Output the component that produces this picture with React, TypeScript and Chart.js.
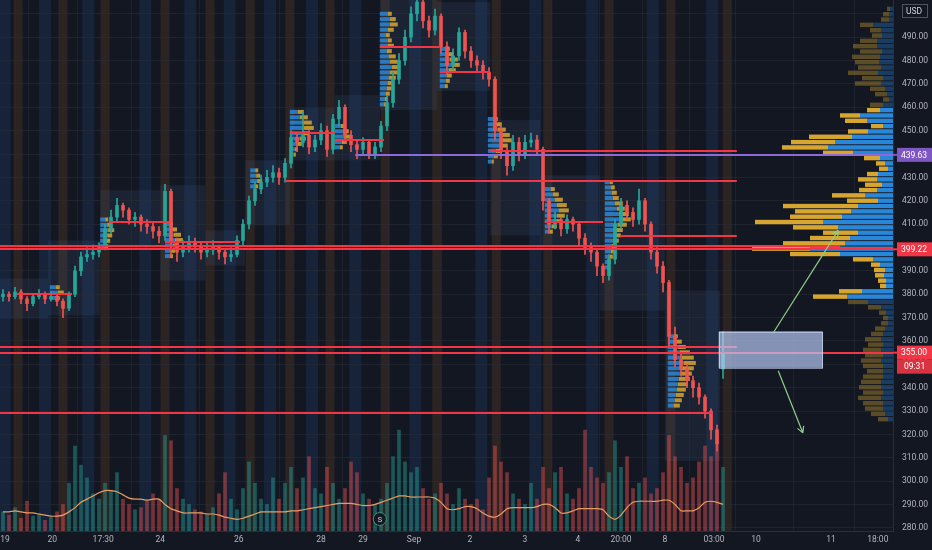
import React, { useEffect, useRef } from "react";
import { Chart, registerables } from "chart.js";
Chart.register(...registerables);

// ---------- price candles ----------
const OPENS = [379,380,379,381,378,376,379,380,378,379, 377,374,380,390,396,397,398,400,408,413,
  418,416,412,413,410,409,407,405,424,402, 398,400,402,401,398,399,400,398,396,397,
  403,410,420,425,428,430,432,430,436,447, 445,448,443,446,450,442,455,460,448,444,
  442,445,440,443,452,462,472,480,490,500, 505,497,493,499,486,478,482,492,484,480,
  478,475,472,450,441,435,445,440,445,446, 442,420,410,412,408,412,410,404,400,398,
  392,388,395,410,418,415,412,420,410,398, 392,385,362,352,348,343,340,336,330,322, 348];
const CLOSES = [380,379,381,378,376,379,380,378,379,377, 374,380,390,396,397,398,400,408,413,418,
  416,412,413,410,409,407,405,424,402,398, 400,402,401,398,399,400,398,396,397,403,
  410,420,425,428,430,432,430,436,447,445, 448,443,446,450,442,455,460,448,444,442,
  445,440,443,452,462,472,480,490,500,505, 497,493,499,486,478,482,492,484,480,478,
  475,472,450,441,435,445,440,445,446,442, 420,410,412,408,412,410,404,400,398,392,
  388,395,410,418,415,412,420,410,398,392, 385,362,352,348,343,340,336,330,322,316, 355];
const HIGHS = [382,381,383,382,379,380,382,381,381,380, 378,381,392,398,400,401,402,410,416,421,
  419,417,415,414,412,411,409,427,425,404, 403,405,404,402,402,403,401,399,400,405,
  412,422,428,431,433,435,434,438,450,449, 458,450,448,453,452,457,463,461,450,446,
  447,446,445,454,465,475,483,493,503,507, 506,499,502,500,488,485,494,493,486,482,
  480,477,473,452,443,448,447,448,449,448, 443,421,415,413,414,413,411,406,402,399,
  393,397,412,421,420,417,425,421,411,400, 394,386,366,355,350,345,342,337,331,324, 364];
const LOWS = [377,377,378,376,373,375,378,376,377,375, 370,373,379,388,394,395,396,399,406,411,
  413,410,409,407,406,404,402,403,396,394, 396,398,398,395,396,397,395,393,394,396,
  401,408,418,423,426,428,427,428,434,441, 443,440,441,444,439,440,452,445,441,438,
  440,438,438,441,450,460,470,478,488,497, 494,490,491,483,474,476,480,481,477,475,
  472,469,446,438,431,433,437,438,443,440, 416,406,408,405,406,407,401,397,394,388,
  385,386,393,408,412,409,410,407,395,389, 381,358,349,345,340,336,333,327,318,313, 344];

// ---------- volume ----------
const VOLUMES = [18,15,22,12,28,14,16,10,13,18, 25,45,80,62,50,35,30,45,38,55,
  30,25,20,22,28,35,30,90,85,40, 30,25,20,18,15,22,35,55,30,20,
  40,65,45,30,25,50,30,45,60,40, 50,70,40,35,60,45,30,40,65,55,
  35,30,25,30,45,70,95,65,55,60, 40,30,35,45,35,25,40,30,25,30,
  20,50,80,65,55,35,30,25,45,30, 60,40,55,60,35,30,40,95,60,50,
  45,55,85,60,70,40,45,50,35,40, 55,90,70,60,45,50,65,80,70,85, 60];
const VOLUME_MA = [18,18,19,18,17,17,16,15,14,14, 15,18,22,27,30,33,36,38,38,37,
  34,31,30,30,29,30,30,25,21,19, 17,17,17,17,16,16,15,13,12,11,
  12,14,16,18,18,18,18,18,19,19, 20,21,22,23,24,25,26,26,26,25,
  24,24,25,27,29,31,33,33,32,32, 32,32,31,27,21,20,21,23,23,21,
  17,14,13,16,21,22,22,22,22,23, 25,25,22,17,17,19,21,21,21,21,
  20,14,11,15,22,27,28,28,28,28, 29,29,25,19,19,19,22,27,28,27, 25];

// ---------- axes ----------
const X_TICK_POS = [0.33, 8.2, 16.7, 26.2, 39.3, 53, 60, 68.5, 77.8, 87, 95.8, 103, 110.3, 118.5, 125.5, 138, 145.8];
const X_TICK_LABELS = ["19","20","17:30","24","26","28","29","Sep","2","3","4","20:00","8","03:00","10","11","18:00"];
const Y_TICKS = [280,290,300,310,320,330,340,350,360,370,380,390,400,410,420,430,440,450,460,470,480,490,500];
const PRICE_MIN = 278.7;
const PRICE_MAX = 505.9;
const X_MIN = -0.5;
const X_MAX = 148.33;

// ---------- session background ----------
const ORANGE_STRIPES = [2.5, 10, 17, 27, 34.5, 41.2, 47.8, 54.5, 63.7, 72.3, 82.2, 90.8, 101, 111.3, 120.7];
const BLUE_STRIPES = [0.3, 7, 14.2, 23.7, 31.2, 37.8, 44.5, 51.5, 58.7, 68.7, 79.7, 88.7, 98.2, 108.3, 118.2];
const SESSION_START = [-0.5, 7.5, 16.2, 26.2, 33.7, 40.3, 47.8, 55.3, 62.8, 72.3, 81.2, 89.5, 99.5, 110.3];
const SESSION_END = [7.5, 16.2, 26.2, 33.7, 40.3, 47.8, 55.3, 62.8, 72.3, 81.2, 89.5, 99.5, 110.3, 119.5];
const SESSION_HIGH = [386.7, 403, 424.5, 426.6, 407.3, 437.3, 459.6, 465.2, 505.9, 505, 454.5, 430.9, 428.7, 381.6];
const SESSION_LOW = [369.6, 370.9, 400.9, 385.9, 392.3, 409.5, 437.3, 437.3, 458.8, 467, 405.2, 400.9, 373, 308.7];

// ---------- session mini volume profiles ----------
const SP_START = [62.8, 72.8, 80.8, 47.8, 90.3, 100.3, 110.8, 27, 16.2, 41.2, 7.8, 55.3];
const SP_TOP = [500, 485, 455, 458, 425, 428, 362, 410, 412, 433, 383, 452];
const SP_TOTAL = [
  [12,16,18,14,10,12,14,12,16,18,20,18,16,14,12,10,8,6],
  [10,14,18,20,16,12,10,8],
  [10,14,18,22,24,20,14,10,6],
  [14,18,22,24,20,16,12,8,6],
  [10,14,18,22,24,20,16,12,8],
  [8,10,12,14,18,20,24,26,22,18,16,14,12,10,8,6,5],
  [10,14,18,22,26,28,26,24,22,20,18,16,14,12],
  [8,12,16,18,14,10,8],
  [8,12,14,12,10,8],
  [8,10,12,8],
  [10,14,10],
  [10,14,16,12,8],
];
const SP_UP = [
  [8,10,10,8,6,8,8,7,9,10,12,10,9,8,7,6,5,4],
  [6,8,10,12,9,7,6,5],
  [6,8,10,12,14,12,8,6,4],
  [8,10,12,14,12,10,8,5,4],
  [6,8,10,12,14,12,10,7,5],
  [5,6,7,8,10,12,14,15,13,10,9,8,7,6,5,4,3],
  [6,8,10,12,14,16,14,12,11,10,9,8,7,6],
  [5,7,9,10,8,6,5],
  [5,7,8,7,6,5],
  [5,6,7,5],
  [6,8,6],
  [6,8,9,7,5],
];
const SP_UNITS_PER_INDEX = 6;

// ---------- visible range volume profile ----------
const PROFILE_TOP = 502.1;
const PROFILE_BIN = 2.28;
const VA_FIRST = 19;
const VA_LAST = 54;
const PROFILE_TOTAL = [6,
  10,12,33,23,21,33,40,33,41,38,35,45,31,38,23,18,10,23,
  26,53,48,22,45,84,102,111,70,29,17,14,26,35,28,34,61,46,110,98,103,138,100,70,83,110,141,103,40,22,19,18,15,13,54,80,
  45,25,14,10,12,18,22,28,25,30,28,32,30,26,30,32,34,30,35,30,28,22,15];
const PROFILE_UP = [3,
  4,4,20,12,11,16,16,11,13,14,12,15,10,12,8,6,4,10,
  13,33,26,10,25,41,58,65,40,13,8,5,15,16,11,16,28,15,35,42,51,70,55,35,43,48,83,53,20,13,8,9,7,7,31,46,
  25,12,7,5,5,8,10,12,10,12,10,12,10,10,10,12,12,10,12,10,10,8,5];
const PROFILE_UNITS_PER_INDEX = 6;

// ---------- drawn levels ----------
const LEVEL_PRICES = [399.22, 400.6, 428.5, 441.5, 405.0, 357.5, 355.0, 329.0, 380.3, 410.8, 402.3, 485.8, 475.0, 449.0, 446.0, 410.8];
const LEVEL_FROM = [-0.5, -0.5, 47, 81.2, 102.8, -0.5, -0.5, -0.5, 2.3, 17.8, 27, 62.8, 72.8, 47.8, 55.3, 90.3];
const LEVEL_TO = [148.33, 139.5, 122.3, 122.3, 122.3, 122.3, 148.33, 118.2, 11.5, 27.8, 39.5, 72.8, 81.2, 55.3, 63.5, 100];
const POC_PRICE = 439.63;
const POC_FROM = 58.7;
const BOX_X = [119.3, 136.5];
const BOX_Y = [348.6, 364.0];
const ARROW_FROM_X = [128.3, 129.2];
const ARROW_FROM_Y = [363.2, 347.3];
const ARROW_TO_X = [139.2, 133.3];
const ARROW_TO_Y = [407.3, 320.7];
const EVENT_X = 62.8;
const TAG_PRICES = [439.63, 399.22, 355.0];
const TAG_TEXT = ["439.63", "399.22", "355.00"];
const TAG_COLORS = ["#7e57c2", "#f23645", "#f23645"];
const COUNTDOWN = "09:31";

const FONT = "Roboto";

export default function App() {
  const ref = useRef<HTMLCanvasElement>(null);
  useEffect(() => {
    const canvas = ref.current;
    if (!canvas) return;
    const up = CLOSES.map((c, i) => c >= OPENS[i]);
    const candleColors = up.map((u) => (u ? "#26a69a" : "#ef5350"));
    const volColors = up.map((u) => (u ? "rgba(38,166,154,0.45)" : "rgba(239,83,80,0.45)"));

    const clipArea = (ctx: CanvasRenderingContext2D, a: any) => {
      ctx.beginPath();
      ctx.rect(a.left, a.top, a.right - a.left, a.bottom - a.top);
      ctx.clip();
    };

    const bgPlugin = {
      id: "bgPlugin",
      beforeDraw(chart: any) {
        const { ctx, chartArea: a, scales } = chart;
        const xs = scales.x, ys = scales.y;
        ctx.save();
        ctx.fillStyle = "#131722";
        ctx.fillRect(0, 0, chart.width, chart.height);
        clipArea(ctx, a);
        BLUE_STRIPES.forEach((c) => {
          const x = xs.getPixelForValue(c);
          ctx.fillStyle = "rgba(40,95,170,0.17)";
          ctx.fillRect(x - 6, a.top, 12, a.bottom - a.top);
        });
        ORANGE_STRIPES.forEach((c) => {
          const x = xs.getPixelForValue(c);
          ctx.fillStyle = "rgba(170,100,40,0.17)";
          ctx.fillRect(x - 4.5, a.top, 9, a.bottom - a.top);
        });
        SESSION_START.forEach((s, k) => {
          const x0 = xs.getPixelForValue(s), x1 = xs.getPixelForValue(SESSION_END[k]);
          const y0 = ys.getPixelForValue(SESSION_HIGH[k]), y1 = ys.getPixelForValue(SESSION_LOW[k]);
          ctx.fillStyle = "rgba(90,120,170,0.12)";
          ctx.fillRect(x0, y0, x1 - x0, y1 - y0);
        });
        ctx.restore();
      },
      beforeDatasetsDraw(chart: any) {
        const { ctx, chartArea: a, scales } = chart;
        const xs = scales.x, ys = scales.y;
        ctx.save();
        clipArea(ctx, a);
        SP_START.forEach((s, k) => {
          SP_TOTAL[k].forEach((t, r) => {
            const yc = ys.getPixelForValue(SP_TOP[k] - r * PROFILE_BIN);
            const x0 = xs.getPixelForValue(s);
            const xb = xs.getPixelForValue(s + SP_UP[k][r] / SP_UNITS_PER_INDEX);
            const xt = xs.getPixelForValue(s + t / SP_UNITS_PER_INDEX);
            ctx.fillStyle = "rgba(42,135,216,0.85)";
            ctx.fillRect(x0, yc - 2, xb - x0, 4);
            ctx.fillStyle = "rgba(215,166,48,0.85)";
            ctx.fillRect(xb, yc - 2, xt - xb, 4);
          });
        });
        ctx.restore();
      },
      afterDatasetsDraw(chart: any) {
        const { ctx, chartArea: a, scales } = chart;
        const xs = scales.x, ys = scales.y;
        ctx.save();
        clipArea(ctx, a);
        // visible range volume profile, anchored on the right edge of the x scale
        PROFILE_TOTAL.forEach((t, r) => {
          const yc = ys.getPixelForValue(PROFILE_TOP - r * PROFILE_BIN);
          const inVA = r >= VA_FIRST && r <= VA_LAST;
          const xR = xs.getPixelForValue(X_MAX);
          const xB = xs.getPixelForValue(X_MAX - PROFILE_UP[r] / PROFILE_UNITS_PER_INDEX);
          const xL = xs.getPixelForValue(X_MAX - t / PROFILE_UNITS_PER_INDEX);
          ctx.fillStyle = inVA ? "#2a87d8" : "rgba(42,120,200,0.38)";
          ctx.fillRect(xB, yc - 2.2, xR - xB, 4.4);
          ctx.fillStyle = inVA ? "#d7a630" : "rgba(190,150,50,0.42)";
          ctx.fillRect(xL, yc - 2.2, xB - xL, 4.4);
        });
        // levels
        ctx.lineWidth = 2;
        LEVEL_PRICES.forEach((p, k) => {
          const y = Math.round(ys.getPixelForValue(p));
          ctx.strokeStyle = "#f23645";
          ctx.beginPath();
          ctx.moveTo(xs.getPixelForValue(LEVEL_FROM[k]), y);
          ctx.lineTo(xs.getPixelForValue(LEVEL_TO[k]), y);
          ctx.stroke();
        });
        const yp = Math.round(ys.getPixelForValue(POC_PRICE));
        ctx.strokeStyle = "#8e6ad8";
        ctx.lineWidth = 2;
        ctx.beginPath();
        ctx.moveTo(xs.getPixelForValue(POC_FROM), yp);
        ctx.lineTo(a.right, yp);
        ctx.stroke();
        // box
        const bx0 = xs.getPixelForValue(BOX_X[0]), bx1 = xs.getPixelForValue(BOX_X[1]);
        const by0 = ys.getPixelForValue(BOX_Y[1]), by1 = ys.getPixelForValue(BOX_Y[0]);
        ctx.fillStyle = "rgba(185,205,250,0.68)";
        ctx.fillRect(bx0, by0, bx1 - bx0, by1 - by0);
        ctx.strokeStyle = "rgba(205,218,250,0.9)";
        ctx.lineWidth = 1;
        ctx.strokeRect(bx0 + 0.5, by0 + 0.5, bx1 - bx0, by1 - by0);
        // arrows
        ctx.strokeStyle = "#8fce8a";
        ctx.lineWidth = 1.2;
        ARROW_FROM_X.forEach((fx, k) => {
          const x0 = xs.getPixelForValue(fx), y0 = ys.getPixelForValue(ARROW_FROM_Y[k]);
          const x1 = xs.getPixelForValue(ARROW_TO_X[k]), y1 = ys.getPixelForValue(ARROW_TO_Y[k]);
          ctx.beginPath();
          ctx.moveTo(x0, y0);
          ctx.lineTo(x1, y1);
          const ang = Math.atan2(y1 - y0, x1 - x0);
          const L = 7;
          ctx.moveTo(x1, y1);
          ctx.lineTo(x1 - L * Math.cos(ang - 0.5), y1 - L * Math.sin(ang - 0.5));
          ctx.moveTo(x1, y1);
          ctx.lineTo(x1 - L * Math.cos(ang + 0.5), y1 - L * Math.sin(ang + 0.5));
          ctx.stroke();
        });
        // event marker
        const ex = xs.getPixelForValue(EVENT_X), ey = a.bottom - 12;
        ctx.beginPath();
        ctx.arc(ex, ey, 6.5, 0, Math.PI * 2);
        ctx.fillStyle = "#131722";
        ctx.fill();
        ctx.strokeStyle = "#3f8f76";
        ctx.lineWidth = 1;
        ctx.stroke();
        ctx.fillStyle = "#c8ccd4";
        ctx.font = `8px ${FONT}`;
        ctx.textAlign = "center";
        ctx.textBaseline = "middle";
        ctx.fillText("S", ex, ey + 0.5);
        ctx.restore();
      },
      afterDraw(chart: any) {
        const { ctx, chartArea: a, scales } = chart;
        const ys = scales.y;
        ctx.save();
        ctx.font = `8.5px ${FONT}`;
        ctx.textBaseline = "middle";
        ctx.textAlign = "left";
        TAG_PRICES.forEach((p, k) => {
          const y = ys.getPixelForValue(p);
          ctx.fillStyle = TAG_COLORS[k];
          ctx.fillRect(a.right + 4, y - 7, 35, 14);
          ctx.fillRect(a.right, y - 1, 5, 2);
          ctx.fillStyle = "#ffffff";
          ctx.fillText(TAG_TEXT[k], a.right + 8, y + 0.5);
          if (k === 2) {
            ctx.fillStyle = "#d83341";
            ctx.fillRect(a.right + 4, y + 7, 35, 14);
            ctx.fillStyle = "#ffffff";
            ctx.fillText(COUNTDOWN, a.right + 11, y + 14.5);
          }
        });
        // USD badge
        ctx.fillStyle = "#131722";
        ctx.fillRect(a.right + 9, 4, 26, 14);
        ctx.strokeStyle = "#50535e";
        ctx.strokeRect(a.right + 9.5, 4.5, 25, 13);
        ctx.fillStyle = "#d1d4dc";
        ctx.fillText("USD", a.right + 13, 11.5);
        ctx.restore();
      },
    };

    const chart = new Chart(canvas, {
      type: "bar",
      data: {
        datasets: [
          {
            type: "bar",
            data: CLOSES.map((c, i) => ({ x: i, y: [OPENS[i], c] })) as any,
            backgroundColor: candleColors,
            barThickness: 3,
            minBarLength: 1,
            grouped: false,
            order: 1,
          } as any,
          {
            type: "bar",
            data: HIGHS.map((h, i) => ({ x: i, y: [LOWS[i], h] })) as any,
            backgroundColor: candleColors,
            barThickness: 1,
            grouped: false,
            order: 2,
          } as any,
          {
            type: "line",
            yAxisID: "yv",
            data: VOLUME_MA.map((v, i) => ({ x: i, y: v })),
            borderColor: "#e89b62",
            borderWidth: 1.2,
            pointRadius: 0,
            tension: 0.2,
            order: 4,
          } as any,
          {
            type: "bar",
            yAxisID: "yv",
            data: VOLUMES.map((v, i) => ({ x: i, y: v })),
            backgroundColor: volColors,
            barThickness: 3,
            grouped: false,
            order: 5,
          } as any,
        ],
      },
      options: {
        responsive: false,
        devicePixelRatio: 1,
        animation: false,
        events: [],
        layout: { padding: 0 },
        plugins: { legend: { display: false }, tooltip: { enabled: false } },
        scales: {
          x: {
            type: "linear",
            min: X_MIN,
            max: X_MAX,
            offset: false,
            afterBuildTicks: (s: any) => {
              s.ticks = X_TICK_POS.map((v) => ({ value: v }));
            },
            afterFit: (s: any) => {
              s.height = 19;
              s.paddingLeft = 0;
              s.paddingRight = 0;
              s.paddingTop = 0;
              s.paddingBottom = 0;
            },
            ticks: {
              autoSkip: false,
              maxRotation: 0,
              padding: 4,
              color: "#b2b5be",
              font: { family: FONT, size: 8.5 },
              callback: (_v: any, i: number) => X_TICK_LABELS[i],
            },
            grid: { color: "rgba(42,46,57,0.45)", drawTicks: false },
            border: { display: true, color: "#2a2e39" },
          },
          y: {
            type: "linear",
            position: "right",
            min: PRICE_MIN,
            max: PRICE_MAX,
            afterBuildTicks: (s: any) => {
              s.ticks = Y_TICKS.map((v) => ({ value: v }));
            },
            afterFit: (s: any) => {
              s.width = 39;
              s.paddingTop = 0;
              s.paddingBottom = 0;
              s.paddingLeft = 0;
              s.paddingRight = 0;
            },
            ticks: {
              padding: 9,
              color: "#b2b5be",
              font: { family: FONT, size: 8.5 },
              callback: (v: any) => Number(v).toFixed(2),
            },
            grid: { color: "rgba(42,46,57,0.55)", drawTicks: false },
            border: { display: true, color: "#2a2e39" },
          },
          yv: {
            type: "linear",
            position: "left",
            min: 0,
            max: 500,
            display: false,
          },
        },
      } as any,
      plugins: [bgPlugin as any],
    });
    return () => chart.destroy();
  }, []);

  return (
    <div style={{ position: "fixed", left: 0, top: 0, width: 932, height: 550, background: "#131722" }}>
      <canvas ref={ref} width={932} height={550} style={{ display: "block", width: 932, height: 550 }} />
    </div>
  );
}
